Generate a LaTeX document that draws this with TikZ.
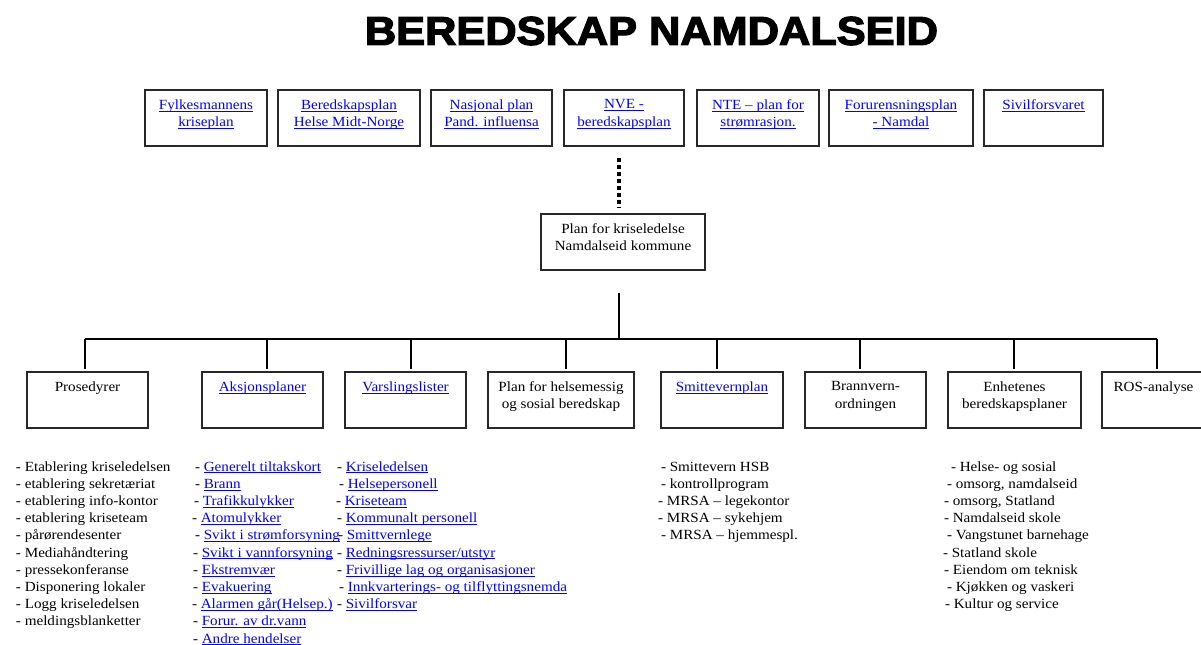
\documentclass[tikz,border=0pt]{standalone}
\usepackage{fontspec}
\setmainfont{Liberation Serif}[FakeStretch=1.08]
\newfontfamily\titlefont[BoldFeatures={FakeBold=3}]{Liberation Sans}
\definecolor{lnk}{RGB}{0,0,255}
\definecolor{boxcol}{RGB}{40,40,40}
\newdimen\pxu \pxu=0.75pt
\newcommand\lk[1]{\leavevmode{\color{lnk}\setbox0\hbox{#1}\rlap{\rule[-1.7pt]{\wd0}{0.6pt}}\box0}}
\newcommand\bxc[3]{\parbox[c][#2\pxu][t]{#1\pxu}{\centering\vspace*{7.3pt}#3\par}}
\newcommand\itm[4]{\node[itm] (#1) at (#2,{471+17.2*#3}) {#4};}
\begin{document}
\begin{tikzpicture}[x=0.75pt,y=-0.75pt,
  font=\fontsize{10.5pt}{12.9pt}\selectfont,
  box/.style={draw=boxcol, line width=1.1pt, inner sep=0pt, outer sep=0pt, anchor=north west, fill=white},
  itm/.style={anchor=base west, inner sep=0pt, outer sep=0pt},
  conn/.style={draw=black, line width=0.8pt},
  dotline/.style={draw=black, line width=3pt, dash pattern=on 2.7pt off 2.6pt}]
\fill[white] (0,0) rectangle (1201,644);
\useasboundingbox (0,0) rectangle (1201,644);

% title
\node[inner sep=0pt] (title) at (651.5,31) {\resizebox{429.75pt}{21pt}{\titlefont\bfseries BEREDSKAP NAMDALSEID}};

% top row
\node[box] (t1) at (145,90) {\bxc{122}{56}{\lk{Fylkesmannens}\\\lk{kriseplan}}};
\node[box] (t2) at (278,90) {\bxc{142}{56}{\lk{Beredskapsplan}\\\lk{Helse Midt-Norge}}};
\node[box] (t3) at (431,90) {\bxc{121}{56}{\lk{Nasjonal plan}\\\lk{Pand. influensa}}};
\node[box] (t4) at (564,90) {\bxc{120}{56}{\lk{NVE -}\\\lk{beredskapsplan}}};
\node[box] (t5) at (697,90) {\bxc{122}{56}{\lk{NTE – plan for}\\\lk{strømrasjon.}}};
\node[box] (t6) at (829,90) {\bxc{144}{56}{\lk{Forurensningsplan}\\\lk{- Namdal}}};
\node[box] (t7) at (984,90) {\bxc{119}{56}{\lk{Sivilforsvaret}}};

% middle
\node[box] (mid) at (541,214) {\bxc{164}{56}{Plan for kriseledelse\\Namdalseid kommune}};

% bottom row
\node[box] (b1) at (27,372) {\bxc{121}{56}{Prosedyrer}};
\node[box] (b2) at (202,372) {\bxc{121}{56}{\lk{Aksjonsplaner}}};
\node[box] (b3) at (345,372) {\bxc{121}{56}{\lk{Varslingslister}}};
\node[box] (b4) at (488,372) {\bxc{146}{56}{Plan for helsemessig\\og sosial beredskap}};
\node[box] (b5) at (661,372) {\bxc{122}{56}{\lk{Smittevernplan}}};
\node[box] (b6) at (805,372) {\bxc{121}{56}{Brannvern-\\ordningen}};
\node[box] (b7) at (948,372) {\bxc{133}{56}{Enhetenes\\beredskapsplaner}};
\node[box] (b8) at (1102,372) {\bxc{103}{56}{ROS-analyse}};

% connectors
\coordinate (dt) at (619,158);
\draw[dotline, shorten >=4.5pt] (dt) -- (dt |- mid.north);
\coordinate (bus) at (619,339);
\draw[conn, shorten <=17pt] (bus |- mid.south) -- (bus);
\coordinate (d1) at (85,339);
\coordinate (d2) at (267,339);
\coordinate (d3) at (411,339);
\coordinate (d4) at (566,339);
\coordinate (d5) at (717,339);
\coordinate (d6) at (860,339);
\coordinate (d7) at (1014,339);
\coordinate (d8) at (1157,339);
\draw[conn] (d1) -- (d8);
\foreach \i in {1,...,8}{\draw[conn, shorten >=2.5pt] (d\i) -- (d\i |- b\i.north);}

% Prosedyrer list
\itm{p1}{16}{0}{- Etablering kriseledelsen}
\itm{p2}{16}{1}{- etablering sekretæriat}
\itm{p3}{16}{2}{- etablering info-kontor}
\itm{p4}{16}{3}{- etablering kriseteam}
\itm{p5}{16}{4}{- pårørendesenter}
\itm{p6}{16}{5}{- Mediahåndtering}
\itm{p7}{16}{6}{- pressekonferanse}
\itm{p8}{16}{7}{- Disponering lokaler}
\itm{p9}{16}{8}{- Logg kriseledelsen}
\itm{p10}{16}{9}{- meldingsblanketter}

% Aksjonsplaner list
\itm{a1}{195}{0}{- \lk{Generelt tiltakskort}}
\itm{a2}{195}{1}{- \lk{Brann}}
\itm{a3}{194}{2}{- \lk{Trafikkulykker}}
\itm{a4}{192}{3}{- \lk{Atomulykker}}
\itm{a5}{195}{4}{- \lk{Svikt i strømforsyning}}
\itm{a6}{193}{5}{- \lk{Svikt i vannforsyning}}
\itm{a7}{193}{6}{- \lk{Ekstremvær}}
\itm{a8}{193}{7}{- \lk{Evakuering}}
\itm{a9}{192}{8}{- \lk{Alarmen går(Helsep.)}}
\itm{a10}{193}{9}{- \lk{Forur. av dr.vann}}
\itm{a11}{193}{10}{- \lk{Andre hendelser}}

% Varslingslister list
\itm{v1}{337}{0}{- \lk{Kriseledelsen}}
\itm{v2}{339}{1}{- \lk{Helsepersonell}}
\itm{v3}{336}{2}{- \lk{Kriseteam}}
\itm{v4}{337}{3}{- \lk{Kommunalt personell}}
\itm{v5}{338}{4}{- \lk{Smittvernlege}}
\itm{v6}{337}{5}{- \lk{Redningsressurser/utstyr}}
\itm{v7}{337}{6}{- \lk{Frivillige lag og organisasjoner}}
\itm{v8}{339}{7}{- \lk{Innkvarterings- og tilflyttingsnemda}}
\itm{v9}{337}{8}{- \lk{Sivilforsvar}}

% Smittevern list
\itm{s1}{661}{0}{- Smittevern HSB}
\itm{s2}{661}{1}{- kontrollprogram}
\itm{s3}{658}{2}{- MRSA – legekontor}
\itm{s4}{658}{3}{- MRSA – sykehjem}
\itm{s5}{661}{4}{- MRSA – hjemmespl.}

% Enhetenes list
\itm{e1}{951}{0}{- Helse- og sosial}
\itm{e2}{947}{1}{- omsorg, namdalseid}
\itm{e3}{944}{2}{- omsorg, Statland}
\itm{e4}{944}{3}{- Namdalseid skole}
\itm{e5}{947}{4}{- Vangstunet barnehage}
\itm{e6}{943}{5}{- Statland skole}
\itm{e7}{944}{6}{- Eiendom om teknisk}
\itm{e8}{947}{7}{- Kjøkken og vaskeri}
\itm{e9}{945}{8}{- Kultur og service}
\end{tikzpicture}
\end{document}
